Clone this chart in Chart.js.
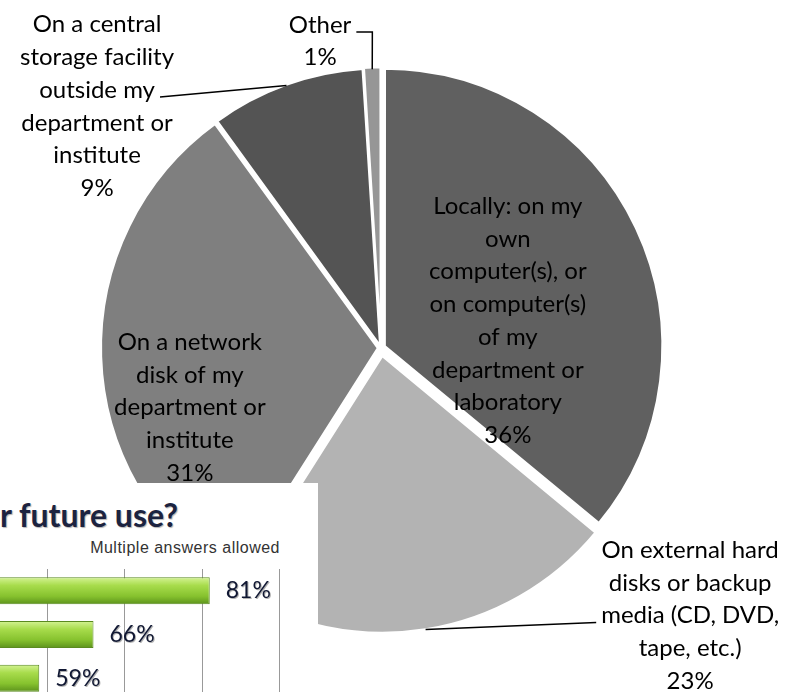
<!DOCTYPE html>
<html>
<head>
<meta charset="utf-8">
<script src="https://cdn.jsdelivr.net/npm/chart.js@4.4.1/dist/chart.umd.min.js"></script>
<style>
  body { margin: 0; background: #fff; }
  #page { position: relative; width: 788px; height: 692px; overflow: hidden; }
  #pie { position: absolute; left: 0; top: 0; }
  #inset { position: absolute; left: 0; top: 483px; width: 318px; height: 209px; overflow: hidden; background: #fff; }
  #insetTitle { position: absolute; left: 0; top: 12px; font: bold 32px Lato, sans-serif; color: #1c2340;
    text-shadow: 1px 1px 1px rgba(0,0,0,0.3); white-space: nowrap; }
  #insetNote { position: absolute; right: 38px; top: 56px; font: 16px "Liberation Sans", Arial, sans-serif;
    letter-spacing: 0.5px; color: #333; white-space: nowrap; }
  #barWrap { position: absolute; left: -430px; top: 86px; }
</style>
</head>
<body>
<div id="page">
  <canvas id="pie" width="788" height="692"></canvas>
  <div id="inset">
    <div id="insetTitle">r future use?</div>
    <div id="insetNote">Multiple answers allowed</div>
    <div id="barWrap"><canvas id="bars" width="800" height="131"></canvas></div>
  </div>
</div>
<script>
// pie data (clockwise from 12 o'clock)
let sliceNames = [
  "Locally: on my own computer(s), or on computer(s) of my department or laboratory",
  "On external hard disks or backup media (CD, DVD, tape, etc.)",
  "On a network disk of my department or institute",
  "On a central storage facility outside my department or institute",
  "Other"
];
let sliceValues = [36, 23, 31, 9, 1];
// label text split the way the picture wraps it
let sliceLines = [
  ["Locally: on my", "own", "computer(s), or", "on computer(s)", "of my", "department or", "laboratory"],
  ["On external hard", "disks or backup", "media (CD, DVD,", "tape, etc.)"],
  ["On a network", "disk of my", "department or", "institute"],
  ["On a central", "storage facility", "outside my", "department or", "institute"],
  ["Other"]
];

// inset bar chart (only part of it is visible)
let barCategories = ["Answer 1", "Answer 2", "Answer 3"];
let barValues = [81, 66, 59];

// styles
let sliceColors = ["#606060", "#b3b3b3", "#7f7f7f", "#545454", "#969696"];
let sliceOffsets = [16, 32, 12, 8, 8];
// label block centre relative to pie centre, in radius units; leader = which line it starts from
let labelPlace = [
  { dx: 0.458, dy: -0.098 },
  { dx: 1.116, dy: 0.966, leader: { line: 2, side: "left", elbow: 0 } },
  { dx: -0.69, dy: 0.215 },
  { dx: -1.025, dy: -0.872, leader: { line: 2, side: "right", elbow: 0 } },
  { dx: -0.22, dy: -1.107, leader: { line: 0, side: "right", elbow: 16 } }
];
let LINE_H = 32.75;
let LABEL_FONT = "24px Lato, sans-serif";

const pieLabels = {
  id: "pieLabels",
  afterDatasetsDraw(chart) {
    const ctx = chart.ctx;
    const arcs = chart.getDatasetMeta(0).data;
    ctx.save();
    ctx.font = LABEL_FONT;
    ctx.fillStyle = "#000";
    ctx.textAlign = "center";
    ctx.textBaseline = "middle";
    arcs.forEach(function (arc, i) {
      const p = arc.getProps(["x", "y", "outerRadius", "startAngle", "endAngle"], true);
      const lines = sliceLines[i].concat([sliceValues[i] + "%"]);
      const place = labelPlace[i];
      const cx = p.x + place.dx * p.outerRadius;
      const cy = p.y + place.dy * p.outerRadius;
      const top = cy - (lines.length - 1) / 2 * LINE_H;
      lines.forEach(function (t, k) {
        ctx.fillText(t, cx, top + k * LINE_H);
      });
      if (place.leader) {
        const L = place.leader;
        const w = ctx.measureText(lines[L.line]).width;
        const sx = L.side === "right" ? cx + w / 2 + 5 : cx - w / 2 - 5;
        const sy = top + L.line * LINE_H + 7;
        const mid = (p.startAngle + p.endAngle) / 2;
        const off = sliceOffsets[i] / 4;
        const ex = p.x + Math.cos(mid) * (p.outerRadius + off);
        const ey = p.y + Math.sin(mid) * (p.outerRadius + off);
        ctx.beginPath();
        ctx.strokeStyle = "#000";
        ctx.lineWidth = 1.5;
        ctx.moveTo(sx, sy);
        if (L.elbow) ctx.lineTo(sx + (L.side === "right" ? L.elbow : -L.elbow), sy);
        ctx.lineTo(ex, ey);
        ctx.stroke();
      }
    });
    ctx.restore();
  }
};

new Chart(document.getElementById("pie"), {
  type: "pie",
  data: {
    labels: sliceNames,
    datasets: [{
      data: sliceValues,
      backgroundColor: sliceColors,
      borderColor: "#fff",
      borderWidth: 2.5,
      offset: sliceOffsets,
      radius: 277
    }]
  },
  options: {
    responsive: false,
    animation: false,
    layout: { padding: { left: 0, right: 26, top: 4, bottom: 0 } },
    plugins: { legend: { display: false }, tooltip: { enabled: false } }
  },
  plugins: [pieLabels]
});

const barValueLabels = {
  id: "barValueLabels",
  afterDatasetsDraw(chart) {
    const ctx = chart.ctx;
    ctx.save();
    ctx.font = "23px Lato, sans-serif";
    ctx.textAlign = "left";
    ctx.textBaseline = "middle";
    chart.getDatasetMeta(0).data.forEach(function (bar, i) {
      ctx.fillStyle = "rgba(0,0,0,0.3)";
      ctx.fillText(barValues[i] + "%", bar.x + 17, bar.y + 1);
      ctx.fillStyle = "#111833";
      ctx.fillText(barValues[i] + "%", bar.x + 16, bar.y);
    });
    ctx.restore();
  }
};

function barFill(c) {
  const ys = c.chart.scales.y;
  const yc = ys ? ys.getPixelForValue(c.dataIndex) : NaN;
  if (!isFinite(yc)) return "#8fce3a";
  const g = c.chart.ctx.createLinearGradient(0, yc - 13.5, 0, yc + 13.5);
  g.addColorStop(0, "#d4f394");
  g.addColorStop(0.3, "#a8dc4c");
  g.addColorStop(0.7, "#86c22e");
  g.addColorStop(1, "#5c921c");
  return g;
}

new Chart(document.getElementById("bars"), {
  type: "bar",
  data: {
    labels: barCategories,
    datasets: [{
      data: barValues,
      backgroundColor: barFill,
      borderColor: "#5a8a1f",
      borderWidth: 1,
      barPercentage: 0.62,
      categoryPercentage: 1
    }]
  },
  options: {
    indexAxis: "y",
    responsive: false,
    animation: false,
    layout: { padding: { left: 12, right: 13, top: 0, bottom: 0 } },
    scales: {
      x: {
        min: 0, max: 100,
        ticks: { display: false, stepSize: 10 },
        grid: { color: "#999999", drawTicks: false },
        border: { display: false }
      },
      y: { display: false }
    },
    plugins: { legend: { display: false }, tooltip: { enabled: false } }
  },
  plugins: [barValueLabels]
});
</script>
</body>
</html>
